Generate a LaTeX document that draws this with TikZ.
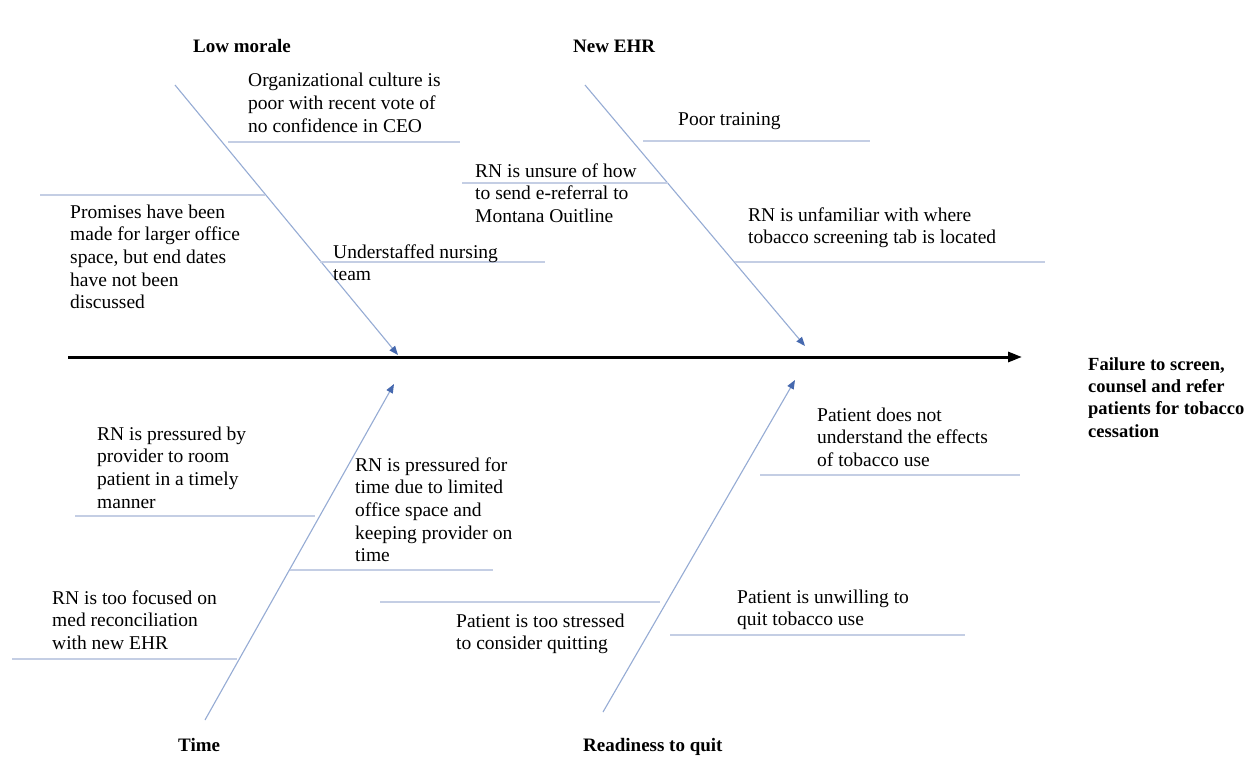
\documentclass[tikz,border=0pt]{standalone}
\usepackage{fontspec}
\setmainfont{Liberation Serif}
\usetikzlibrary{arrows.meta}
\definecolor{bonec}{RGB}{150,172,212}
\definecolor{ribc}{RGB}{196,206,228}
\definecolor{tipc}{RGB}{70,105,175}
\tikzset{
  lbl/.style={anchor=base west, inner sep=0pt, align=left, font=\fontsize{19.5}{22.7}\selectfont},
  head/.style={lbl, font=\fontsize{19}{22.4}\selectfont\bfseries},
  effect/.style={lbl, font=\fontsize{18.5}{22.4}\selectfont\bfseries},
  boneline/.style={draw=bonec, line width=1.1pt, -{Triangle[length=9pt,width=7pt,color=tipc]}},
  ribline/.style={draw=ribc, line width=1.3pt},
  spineline/.style={draw=black, line width=3pt, -{Triangle[length=14pt,width=10pt]}}
}
\begin{document}
\begin{tikzpicture}[x=1pt,y=-1pt]
\useasboundingbox[fill=white] (0,0) rectangle (1248,773);

% spine
\coordinate (sp0) at (68,357);
\coordinate (sp1) at (1022,357);
\draw[spineline] (sp0) -- (sp1);

% bones
\coordinate (lmS) at (175,85);  \coordinate (lmT) at (398,355);
\coordinate (ehS) at (585,85);  \coordinate (ehT) at (805,346);
\coordinate (tmS) at (205,720); \coordinate (tmT) at (394,384);
\coordinate (rqS) at (603,712); \coordinate (rqT) at (795,380);
\draw[boneline] (lmS) -- (lmT);
\draw[boneline] (ehS) -- (ehT);
\draw[boneline] (tmS) -- (tmT);
\draw[boneline] (rqS) -- (rqT);

% ribs
\coordinate (r1a) at (228,142); \coordinate (r1b) at (460,142);
\coordinate (r2a) at (40,195);  \coordinate (r2b) at (265,195);
\coordinate (r3a) at (320,262); \coordinate (r3b) at (545,262);
\coordinate (r4a) at (643,141); \coordinate (r4b) at (870,141);
\coordinate (r5a) at (462,183); \coordinate (r5b) at (668,183);
\coordinate (r6a) at (735,262); \coordinate (r6b) at (1045,262);
\coordinate (r7a) at (75,516);  \coordinate (r7b) at (315,516);
\coordinate (r8a) at (290,570); \coordinate (r8b) at (493,570);
\coordinate (r9a) at (12,659);  \coordinate (r9b) at (237,659);
\coordinate (r10a) at (760,475); \coordinate (r10b) at (1020,475);
\coordinate (r11a) at (380,602); \coordinate (r11b) at (660,602);
\coordinate (r12a) at (670,635); \coordinate (r12b) at (965,635);
\foreach \r in {r1,r2,r3,r4,r5,r6,r7,r8,r9,r10,r11,r12}
  \draw[ribline] (\r a) -- (\r b);

% headings (multi-line nodes are placed by the baseline of their last line)
\node[head] (hLow) at (193,53) {Low morale};
\node[head] (hEHR) at (573,53) {New EHR};
\node[head] (hTime) at (178,751) {Time};
\node[head] (hReady) at (583,751) {Readiness to quit};
\node[effect] (hEff) at (1088,437.2) {Failure to screen,\\counsel and refer\\patients for tobacco\\cessation};

% causes
\node[lbl] (tOrg) at (248,132.4) {Organizational culture is\\poor with recent vote of\\no confidence in CEO};
\node[lbl] (tProm) at (70,308.8) {Promises have been\\made for larger office\\space, but end dates\\have not been\\discussed};
\node[lbl] (tUnder) at (333,280.7) {Understaffed nursing\\team};
\node[lbl] (tPoor) at (678,126) {Poor training};
\node[lbl] (tUnsure) at (475,222.4) {RN is unsure of how\\to send e-referral to\\Montana Ouitline};
\node[lbl] (tUnfam) at (748,243.7) {RN is unfamiliar with where\\tobacco screening tab is located};
\node[lbl] (tPressBy) at (97,508.1) {RN is pressured by\\provider to room\\patient in a timely\\manner};
\node[lbl] (tPressFor) at (355,561.8) {RN is pressured for\\time due to limited\\office space and\\keeping provider on\\time};
\node[lbl] (tFocus) at (52,649.4) {RN is too focused on\\med reconciliation\\with new EHR};
\node[lbl] (tUnderst) at (817,466.4) {Patient does not\\understand the effects\\of tobacco use};
\node[lbl] (tUnwill) at (737,625.7) {Patient is unwilling to\\quit tobacco use};
\node[lbl] (tStress) at (456,649.7) {Patient is too stressed\\to consider quitting};
\end{tikzpicture}
\end{document}
